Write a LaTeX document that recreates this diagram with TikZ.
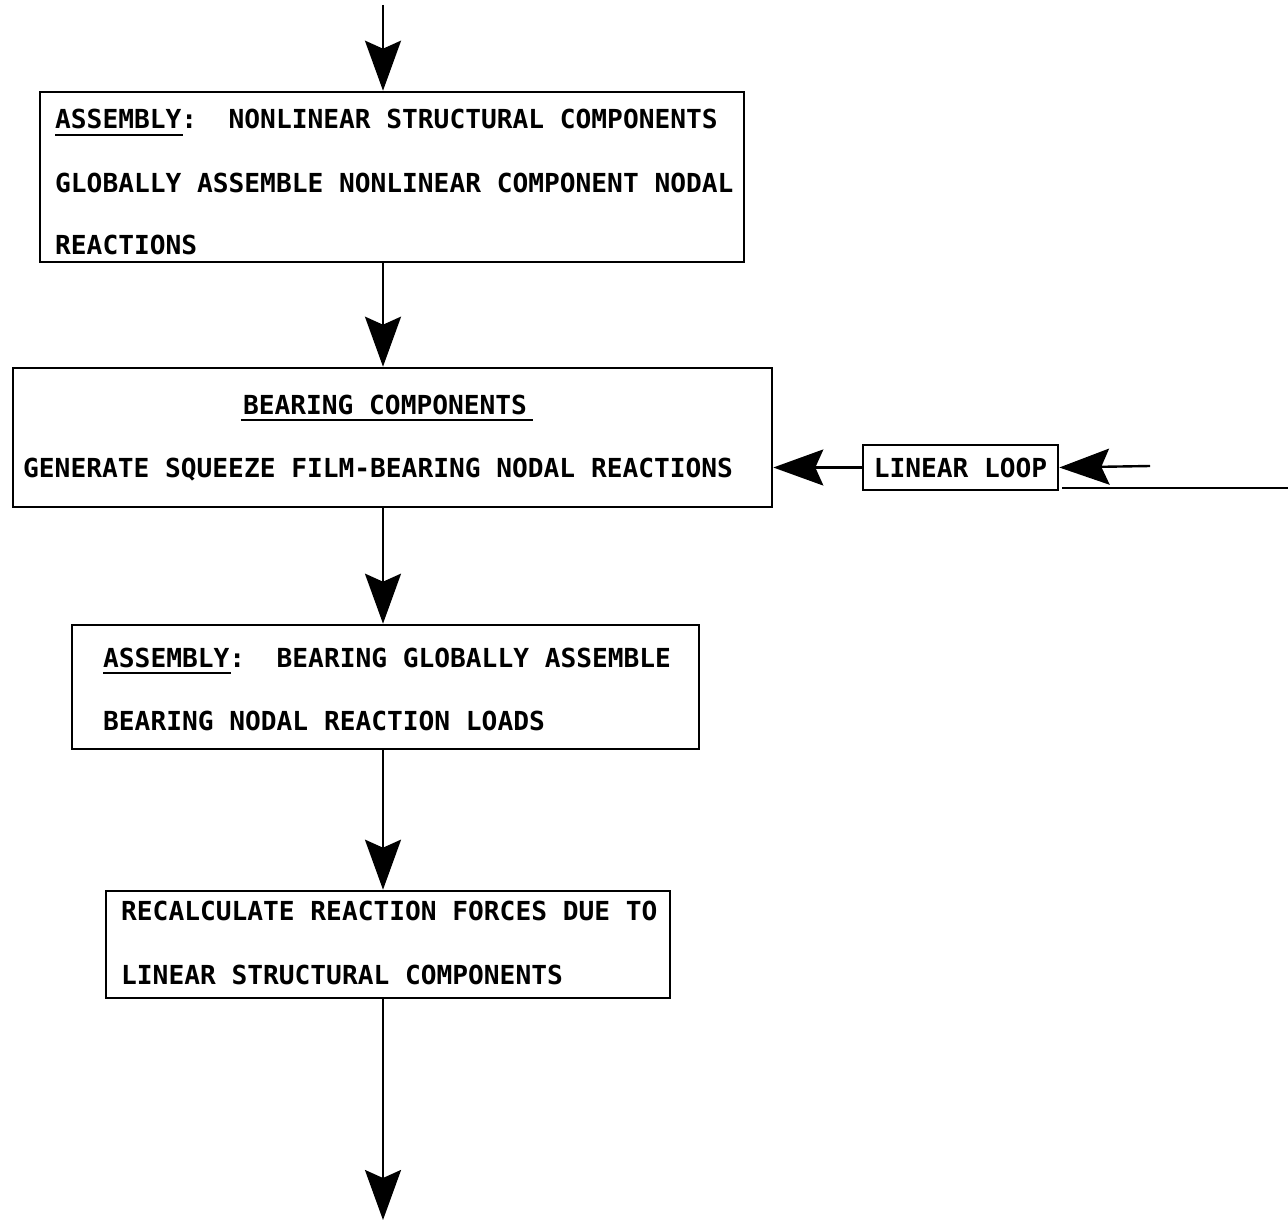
\documentclass[tikz,border=0pt]{standalone}
\usepackage{fontspec}
\newfontfamily\tw{DejaVu Sans Mono}
\usetikzlibrary{arrows.meta}
\begin{document}
\frenchspacing
\begin{tikzpicture}[x=1pt,y=-1pt,
  box/.style={draw, line width=2.6pt, rectangle, inner sep=0pt},
  txt/.style={anchor=base west, inner sep=0pt, font=\tw\bfseries\fontsize{26.2}{30}\selectfont},
  flow/.style={line width=2.4pt, -{Stealth[length=50pt,width=36pt,inset=8pt]}},
  uline/.style={line width=2.4pt}]
\useasboundingbox (0,0) rectangle (1288,1220);

% boxes
\node[box, minimum width=704pt, minimum height=170pt] (b1) at (392,177) {};
\node[box, minimum width=759pt, minimum height=139pt] (b2) at (392.5,437.5) {};
\node[box, minimum width=627pt, minimum height=124pt] (b3) at (385.5,687) {};
\node[box, minimum width=564pt, minimum height=107pt] (b4) at (388,944.5) {};
\node[box, font=\tw\bfseries\fontsize{26.2}{30}\selectfont, minimum width=195pt, minimum height=45pt] (LL) at (960.5,467.5) {LINEAR LOOP};

% texts
\node[txt] (t11) at (55,129) {ASSEMBLY:\ \ NONLINEAR STRUCTURAL COMPONENTS};
\node[txt] (t12) at (55,193) {GLOBALLY ASSEMBLE NONLINEAR COMPONENT NODAL};
\node[txt] (t13) at (55,254) {REACTIONS};
\node[txt, anchor=base] (t21) at (385,414) {BEARING COMPONENTS};
\node[txt] (t22) at (23,477) {GENERATE SQUEEZE FILM-BEARING NODAL REACTIONS};
\node[txt] (t31) at (103,667) {ASSEMBLY:\ \ BEARING GLOBALLY ASSEMBLE};
\node[txt] (t32) at (103,730) {BEARING NODAL REACTION LOADS};
\node[txt] (t41) at (121,920) {RECALCULATE REACTION FORCES DUE TO};
\node[txt] (t42) at (121,984) {LINEAR STRUCTURAL COMPONENTS};

% underlines
\draw[uline] ([yshift=-6pt]t11.base west) -- ++(128,0);
\draw[uline] ([yshift=-6pt]t31.base west) -- ++(128,0);
\draw[uline] ([yshift=-6pt,xshift=-2pt]t21.base west) -- ([yshift=-6pt,xshift=6pt]t21.base east);

% main flow
\coordinate (top) at (383,5);
\coordinate (bot) at (383,1220);
\draw[flow] (top) -- (top |- b1.north);
\draw[flow] (top |- b1.south) -- (top |- b2.north);
\draw[flow] (top |- b2.south) -- (top |- b3.north);
\draw[flow] (top |- b3.south) -- (top |- b4.north);
\draw[flow] (top |- b4.south) -- (bot);

% linear loop
\coordinate (tail) at (1150,466);
\coordinate (rl) at (1062,488);
\coordinate (rr) at (1288,488);
\draw[flow] (LL.west) -- (LL.west -| b2.east);
\draw[line width=2.4pt, {Stealth[length=50pt,width=36pt,inset=8pt]}-,
      dash pattern=on 72pt off 6pt on 4pt off 6pt on 4pt off 20pt] (LL.east) -- (tail);
\draw[line width=2.6pt] (rl) -- (rr);
\end{tikzpicture}
\end{document}
